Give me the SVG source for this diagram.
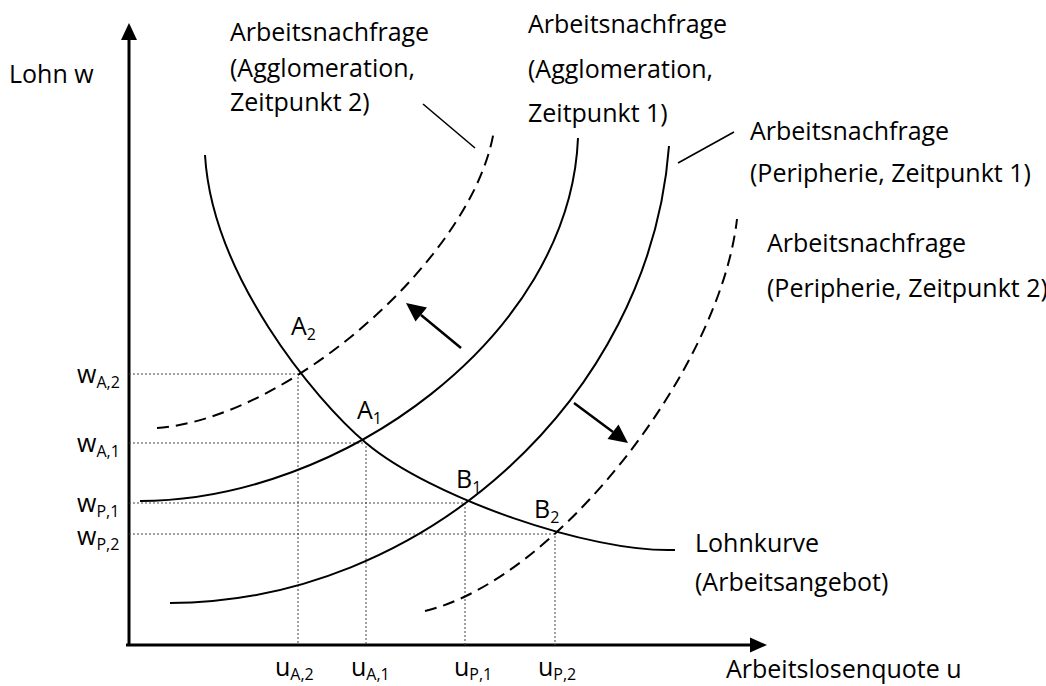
<svg xmlns="http://www.w3.org/2000/svg" width="1046" height="686" viewBox="0 0 1046 686">
<defs>
<style>
text{font-family:"Open Sans","Noto Sans","Liberation Sans",sans-serif;font-size:25px;fill:#000}
.sub{font-size:16px}
.axis{stroke:#000;stroke-width:3;fill:none}
.curve{stroke:#000;stroke-width:2;fill:none}
.dash{stroke:#000;stroke-width:2;fill:none;stroke-dasharray:12,7}
.guide{stroke:#444;stroke-width:1;fill:none;stroke-dasharray:2,2}
.leader{stroke:#000;stroke-width:1.6;fill:none}
.arrow{stroke:#000;stroke-width:2.5;fill:none}
</style>
</defs>
<rect width="1046" height="686" fill="#fff"/>

<g id="axes">
<line class="axis" x1="129" y1="646" x2="129" y2="38"/>
<path d="M129,23 L137,40 L121,40 z" fill="#000"/>
<line class="axis" x1="126" y1="645" x2="752" y2="645"/>
<path d="M767,645 L750,637.5 L750,652.5 z" fill="#000"/>
<text x="9" y="83">Lohn w</text>
<text x="726" y="678">Arbeitslosenquote u</text>
</g>

<g id="guides">
<path class="guide" d="M129,374 H298 V645"/>
<path class="guide" d="M129,443 H366 V645"/>
<path class="guide" d="M129,503 H465 V645"/>
<path class="guide" d="M129,534 H555 V645"/>
</g>

<g id="tick-labels">
<text x="77" y="383">w<tspan class="sub" dy="5">A,2</tspan></text>
<text x="77" y="452">w<tspan class="sub" dy="5">A,1</tspan></text>
<text x="77" y="512">w<tspan class="sub" dy="5">P,1</tspan></text>
<text x="77" y="545">w<tspan class="sub" dy="5">P,2</tspan></text>
<text x="275" y="676">u<tspan class="sub" dy="4">A,2</tspan></text>
<text x="351" y="676">u<tspan class="sub" dy="4">A,1</tspan></text>
<text x="454" y="676">u<tspan class="sub" dy="4">P,1</tspan></text>
<text x="538" y="676">u<tspan class="sub" dy="4">P,2</tspan></text>
</g>

<g id="lohnkurve">
<path class="curve" d="M205,155 C212,275 314,399 366,443 C430,497 590,553 675,550"/>
<text x="695" y="552">Lohnkurve</text>
<text x="695" y="591">(Arbeitsangebot)</text>
</g>

<g id="agglo1">
<path class="curve" d="M140,501 C340,501 570,337 578,138"/>
<text x="528" y="33">Arbeitsnachfrage</text>
<text x="528" y="78">(Agglomeration,</text>
<text x="528" y="122">Zeitpunkt 1)</text>
</g>

<g id="peri1">
<path class="curve" d="M170,603 C420,603 650,400 669,146"/>
<text x="750" y="140">Arbeitsnachfrage</text>
<text x="750" y="182">(Peripherie, Zeitpunkt 1)</text>
<line class="leader" x1="678" y1="163" x2="734" y2="132"/>
</g>

<g id="agglo2">
<path class="dash" d="M157,428 C290,418 475,255 494,130"/>
<text x="230" y="41">Arbeitsnachfrage</text>
<text x="230" y="77">(Agglomeration,</text>
<text x="230" y="111">Zeitpunkt 2)</text>
<line class="leader" x1="423" y1="104" x2="475" y2="148"/>
</g>

<g id="peri2">
<path class="dash" d="M425,611 C555,580 720,370 737,219"/>
<text x="767" y="252">Arbeitsnachfrage</text>
<text x="767" y="297">(Peripherie, Zeitpunkt 2)</text>
</g>

<g id="points">
<text x="291" y="335">A<tspan class="sub" dy="5">2</tspan></text>
<text x="357" y="419">A<tspan class="sub" dy="5">1</tspan></text>
<text x="456" y="488">B<tspan class="sub" dy="5">1</tspan></text>
<text x="534" y="518">B<tspan class="sub" dy="5">2</tspan></text>
</g>

<g id="shift-arrows">
<line class="arrow" x1="461" y1="348" x2="421" y2="315"/>
<path d="M406,303 L427,307.5 L415.5,321.5 z" fill="#000"/>
<line class="arrow" x1="574" y1="403" x2="613" y2="432"/>
<path d="M628,443 L607.5,439 L618.5,424.5 z" fill="#000"/>
</g>
</svg>
